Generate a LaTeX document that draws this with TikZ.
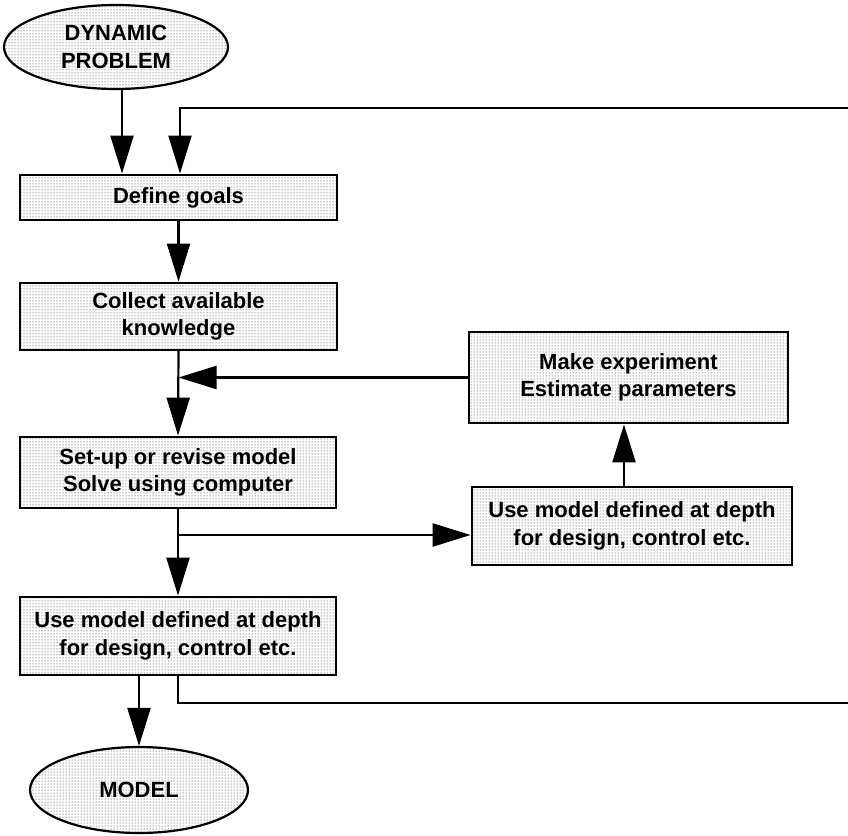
\documentclass[tikz,border=0pt]{standalone}
\usepackage{fontspec}
\setmainfont{Liberation Sans}
\usetikzlibrary{shapes.geometric,arrows.meta,patterns}
\begin{document}
\begin{tikzpicture}[x=1pt,y=-1pt,
  stip/.style={preaction={fill=white},pattern=dots,pattern color=black!85},
  txt/.style={font=\fontsize{22}{27.5}\selectfont\bfseries,align=center,text=black},
  boxnode/.style={stip,txt,draw=black,line width=2.8pt,rectangle,inner sep=0pt},
  ovalnode/.style={stip,txt,draw=black,line width=2.2pt,ellipse,inner sep=0pt},
  conn/.style={line width=2.2pt,line cap=rect},
  arr/.style={conn,-{Triangle[length=38pt,width=23pt]}}]
\useasboundingbox (0,0) rectangle (848,835);
% nodes
\node[ovalnode,minimum width=224pt,minimum height=84pt] (dyn) at (116,47) {DYNAMIC\\PROBLEM};
\node[boxnode,minimum width=317pt,minimum height=45pt] (goals) at (178.5,197.5) {Define goals};
\node[boxnode,minimum width=317pt,minimum height=67pt] (collect) at (178.5,316.5) {Collect available\\knowledge};
\node[boxnode,minimum width=316pt,minimum height=71pt] (setup) at (178,472.5) {Set-up or revise model\\Solve using computer};
\node[boxnode,minimum width=316pt,minimum height=78pt] (usel) at (178,636) {Use model defined at depth\\for design, control etc.};
\node[ovalnode,minimum width=218pt,minimum height=86pt] (model) at (139,790) {MODEL};
\node[boxnode,minimum width=319pt,minimum height=91pt] (exper) at (628.5,377.5) {Make experiment\\Estimate parameters};
\node[boxnode,minimum width=320pt,minimum height=78pt] (user) at (632,526) {Use model defined at depth\\for design, control etc.};
% helper coordinates
\coordinate (tr) at (848,108);
\coordinate (tl) at (180,108);
\coordinate (br) at (848,703);
\coordinate (y535) at (0,535);
\coordinate (x122) at (122,0);
\coordinate (x624) at (624,0);
\coordinate (j1) at (collect.south |- exper.west);
\coordinate (j2) at (setup.south |- y535);
% connectors
\draw[arr] (x122 |- dyn.south) -- (x122 |- goals.north);
\draw[arr] (tr) -- (tl) -- (tl |- goals.north);
\draw[arr] (goals.south) -- (collect.north);
\draw[arr] (collect.south) -- (setup.north);
\draw[arr] (exper.west) -- (j1);
\draw[arr] (setup.south) -- (usel.north);
\draw[arr] (j2) -- (j2 -| user.west);
\draw[arr] (x624 |- user.north) -- (x624 |- exper.south);
\draw[arr] (usel.south -| model.north) -- (model.north);
\draw[conn] (usel.south) -- (usel.south |- br) -- (br);
\end{tikzpicture}
\end{document}
